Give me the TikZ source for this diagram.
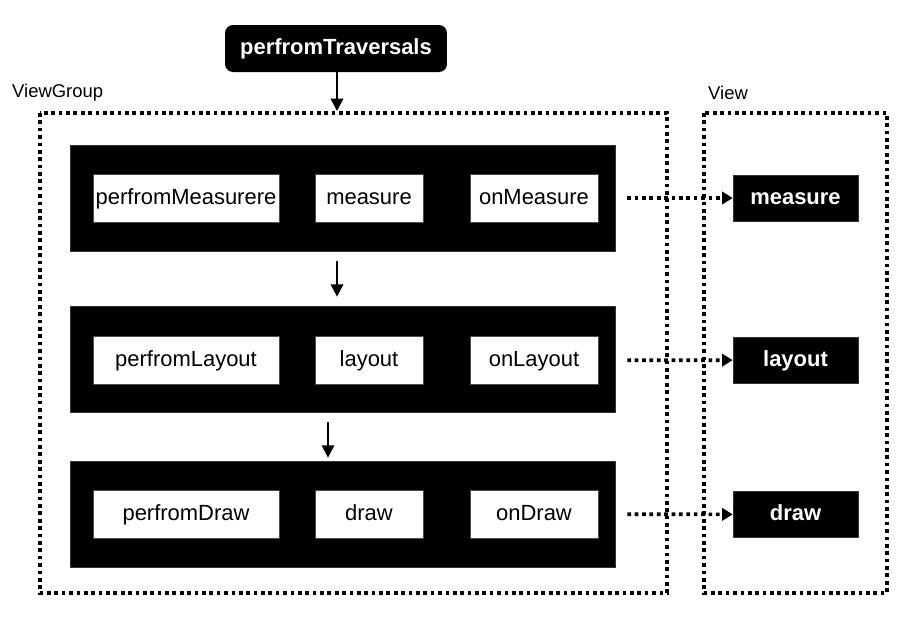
\documentclass[tikz,border=0pt]{standalone}
\usepackage{fontspec}
\setmainfont{Liberation Sans}
\usetikzlibrary{arrows.meta}

\tikzset{
    darkbox/.style={fill=black, draw=black!80, minimum width=10.9cm, minimum height=2.12cm},
    callbox/.style={fill=white, draw=black!70, minimum height=0.96cm, inner sep=0pt, text height=1.75ex, text depth=0.45ex, font=\fontsize{12.5}{15}\selectfont},
    viewbox/.style={fill=black, draw=black!80, minimum width=2.5cm, minimum height=0.92cm, inner sep=0pt, text height=1.75ex, text depth=0.45ex, text=white, font=\fontsize{12.5}{15}\selectfont\bfseries},
    groupline/.style={line width=2.1pt, dash pattern=on 2.1pt off 2.1pt},
    flow/.style={line width=1.3pt, -{Triangle[length=7pt, width=7pt]}},
    dotflow/.style={line width=2.1pt, dash pattern=on 2.1pt off 2.1pt, -{Triangle[length=6pt, width=7pt]}}
}

\begin{document}
\begin{tikzpicture}[x=0.02cm, y=-0.02cm]
    \useasboundingbox (0,0) rectangle (922,626);

    % Draw group frames
    \draw[groupline] (40,113) rectangle (667,593);
    \draw[groupline] (704,113) rectangle (887,593);
    \node[anchor=west, font=\fontsize{10.5}{13}\selectfont] (vglabel) at (6,93) {ViewGroup};
    \node[anchor=west, font=\fontsize{10.5}{13}\selectfont] (vlabel) at (702,93) {View};
    \coordinate (vgtop) at (337,111);

    % Entry point
    \node[fill=black, rounded corners=0.16cm, minimum width=4.44cm, minimum height=0.94cm,
          inner sep=0pt, text height=1.75ex, text depth=0.45ex,
          text=white, font=\fontsize{12.5}{15}\selectfont\bfseries] (trav) at (336,48.5) {perfromTraversals};

    % Stages in ViewGroup
    \node[darkbox] (measurerow) at (342.5,198) {};
    \node[darkbox] (layoutrow) at (342.5,359) {};
    \node[darkbox] (drawrow) at (342.5,514) {};

    \node[callbox, minimum width=3.72cm] (pmeasure) at (186,198) {perfromMeasurere};
    \node[callbox, minimum width=2.16cm] (gmeasure) at (369,198) {measure};
    \node[callbox, minimum width=2.56cm] (onmeasure) at (534,198) {onMeasure};

    \node[callbox, minimum width=3.72cm] (playout) at (186,360.5) {perfromLayout};
    \node[callbox, minimum width=2.16cm] (glayout) at (369,360.5) {layout};
    \node[callbox, minimum width=2.56cm] (onlayout) at (534,360.5) {onLayout};

    \node[callbox, minimum width=3.72cm] (pdraw) at (186,514) {perfromDraw};
    \node[callbox, minimum width=2.16cm] (gdraw) at (369,514) {draw};
    \node[callbox, minimum width=2.56cm] (ondraw) at (534,514) {onDraw};

    % Stages in View
    \node[viewbox] (vmeasure) at (795.5,198) {measure};
    \node[viewbox] (vlayout) at (795.5,360) {layout};
    \node[viewbox] (vdraw) at (795.5,514.5) {draw};

    % Draw arrows
    \draw[flow] (trav.south -| vgtop) -- (vgtop);
    \draw[flow, shorten <=0.2cm, shorten >=0.18cm] (measurerow.south -| vgtop) -- (layoutrow.north -| vgtop);
    \draw[flow, shorten <=0.2cm, shorten >=0.06cm] ([xshift=-0.29cm]layoutrow.south) -- ([xshift=-0.29cm]drawrow.north);

    \draw[dotflow, shorten <=0.58cm] (onmeasure) -- (vmeasure);
    \draw[dotflow, shorten <=0.58cm] (onlayout) -- (vlayout);
    \draw[dotflow, shorten <=0.58cm] (ondraw) -- (vdraw);

\end{tikzpicture}
\end{document}
